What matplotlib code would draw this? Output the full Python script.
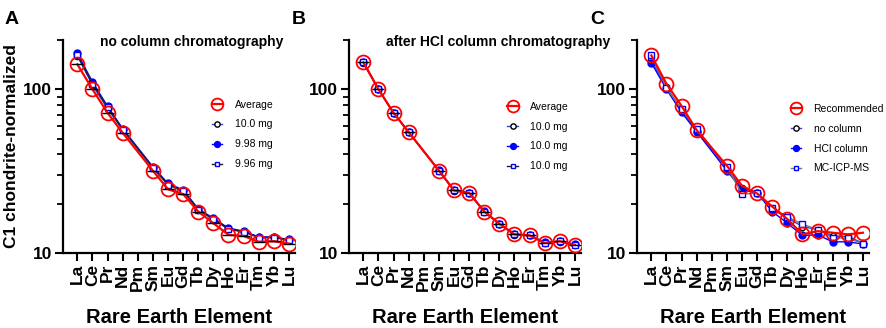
import numpy as np
import matplotlib.pyplot as plt
from matplotlib.ticker import LogLocator, NullFormatter

plt.rcParams['font.family'] = ['Liberation Sans', 'DejaVu Sans']

# elementos (Pm sin dato)
ree = ['La', 'Ce', 'Pr', 'Nd', 'Pm', 'Sm', 'Eu', 'Gd', 'Tb', 'Dy', 'Ho', 'Er', 'Tm', 'Yb', 'Lu']
nan = np.nan

# panel A: sin columna
a_avg = [142, 100, 71.7, 54.2, nan, 31.8, 24.5, 22.9, 17.9, 15.2, 12.9, 12.7, 11.7, 11.8, 11.4]
a_100 = [160, 106, 76.0, 56.5, nan, 33.0, 26.0, 23.8, 18.3, 16.0, 14.0, 13.4, 12.6, 12.5, 12.0]
a_998 = [166, 111, 78.7, 57.5, nan, 33.6, 26.6, 24.3, 18.6, 16.3, 14.2, 13.6, 12.5, 12.5, 12.1]
a_996 = [162, 108, 77.5, 56.8, nan, 33.2, 26.2, 24.0, 18.4, 16.1, 14.0, 13.5, 12.4, 12.4, 12.0]
a_labels = ['Average', '10.0 mg', '9.98 mg', '9.96 mg']

# panel B: despues de columna HCl
b_avg = [146, 100, 71.7, 54.7, nan, 31.9, 24.1, 23.3, 17.9, 15.1, 13.0, 12.8, 11.5, 11.8, 11.2]
b_1 = [145, 100, 71.5, 54.5, nan, 31.8, 24.0, 23.2, 17.8, 15.0, 12.9, 12.8, 11.5, 11.7, 11.2]
b_2 = [147, 100, 72.0, 54.8, nan, 32.0, 24.2, 23.4, 18.0, 15.1, 13.0, 12.9, 11.6, 11.8, 11.3]
b_3 = [146, 100, 71.8, 54.6, nan, 31.9, 24.1, 23.3, 17.9, 15.1, 13.0, 12.8, 11.5, 11.8, 11.2]
b_labels = ['Average', '10.0 mg', '10.0 mg', '10.0 mg']

# panel C: comparacion con valores recomendados
c_rec = [161, 108, 79.1, 56.2, nan, 34.1, 25.7, 23.1, 19.2, 16.1, 13.0, 13.6, 13.3, 13.0, 13.3]
c_nocol = [150, 103, 74.5, 56.0, nan, 32.8, 24.8, 23.4, 18.6, 16.4, 14.5, 13.9, 12.7, 12.6, 11.5]
c_hcl = [145, 100, 72.2, 55.0, nan, 31.8, 24.4, 23.2, 17.9, 15.2, 12.8, 12.9, 11.7, 11.7, 11.35]
c_mc = [161, 102, 75.5, 57.5, nan, 33.6, 22.9, 23.2, 18.9, 16.6, 15.0, 13.9, 12.4, 12.3, 11.4]
c_labels = ['Recommended', 'no column', 'HCl column', 'MC-ICP-MS']

fig = plt.figure(figsize=(8.86, 3.28), dpi=100)
W, H = 886, 328
lefts = [63, 349, 637]
x = np.arange(len(ree))


def dibujar(ax, avg, s1, s2, s3, labels, cap, title, leg_xy):
    def serie(y):
        y = np.array(y, dtype=float)
        m = ~np.isnan(y)
        return x[m], y[m]
    xx, yy = serie(s1)
    h1, = ax.plot(xx, yy, '-', color='#3344dd', lw=1.0, marker='o', ms=4.5,
                  mfc='white', mec='black', mew=1.0, zorder=3)
    xx, yy = serie(s2)
    h2, = ax.plot(xx, yy, '-', color='blue', lw=1.0, marker='o', ms=5,
                  mfc='blue', mec='blue', zorder=3)
    xx, yy = serie(s3)
    h3, = ax.plot(xx, yy, '-', color='#222222' if cap else '#777777', lw=1.0,
                  marker='s', ms=4, mfc='white', mec='blue', mew=1.0, zorder=3)
    xx, yy = serie(avg)
    h0, = ax.plot(xx, yy, '-', color='red', lw=1.6, marker='o', ms=10,
                  mfc='none', mec='red', mew=1.3, zorder=4)
    if cap:
        ax.plot(xx, yy, ls='none', marker='_', ms=8, color='black', mew=1.0, zorder=5)
    ax.set_yscale('log')
    ax.set_ylim(10, 200)
    ax.set_xlim(-0.95, 14.4)
    ax.set_xticks(x)
    ax.set_xticklabels(ree, rotation=90, fontsize=12.5, fontweight='bold')
    ax.yaxis.set_minor_locator(LogLocator(base=10, subs=np.arange(2, 10), numticks=10))
    ax.yaxis.set_minor_formatter(NullFormatter())
    ax.set_yticks([10, 100])
    ax.set_yticklabels(['10', '100'], fontsize=12.5, fontweight='bold')
    for s in ['top', 'right']:
        ax.spines[s].set_visible(False)
    for s in ['left', 'bottom']:
        ax.spines[s].set_linewidth(1.6)
    ax.tick_params(axis='both', which='major', width=1.5, length=6, direction='out', pad=2)
    ax.tick_params(axis='y', which='minor', width=1.3, length=4, direction='out')
    ax.set_xlabel('Rare Earth Element', fontsize=14.5, fontweight='bold')
    ax.xaxis.set_label_coords(0.5, -0.258)
    if title:
        ax.text(0.16, 0.99, title, transform=ax.transAxes, fontsize=10,
                fontweight='bold', va='center', ha='left')
    ax.legend([h0, h1, h2, h3], labels, loc='upper left', bbox_to_anchor=leg_xy,
              frameon=False, fontsize=7.5, handlelength=1.0, handletextpad=1.2,
              labelspacing=0.95, borderpad=0, markerscale=0.85)


axs = []
for l in lefts:
    axs.append(fig.add_axes([l / W, 1 - 253 / H, 232 / W, 213 / H]))

dibujar(axs[0], a_avg, a_100, a_998, a_996, a_labels, True,
        'no column chromatography', (0.62, 0.745))
dibujar(axs[1], b_avg, b_1, b_2, b_3, b_labels, True,
        'after HCl column chromatography', (0.66, 0.735))
dibujar(axs[2], c_rec, c_nocol, c_hcl, c_mc, c_labels, False, None, (0.64, 0.725))

axs[0].set_ylabel('C1 chondrite-normalized', fontsize=12.5, fontweight='bold')
axs[0].yaxis.set_label_coords(-0.19, 0.5)

for l, letra in zip([5, 292, 590], ['A', 'B', 'C']):
    fig.text(l / W, 1 - 20 / H, letra, fontsize=14, fontweight='bold', va='center', ha='left')

plt.savefig('out.png', dpi=100)
